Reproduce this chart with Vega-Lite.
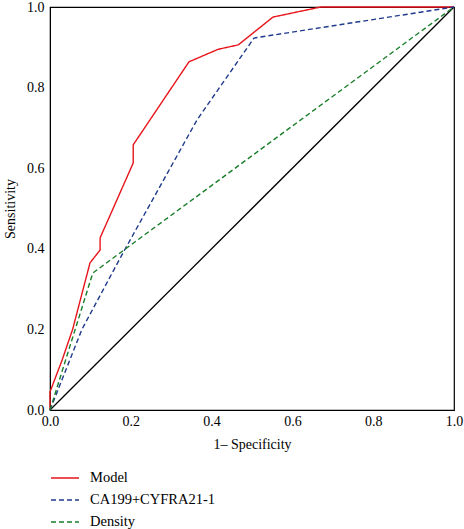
{
  "$schema": "https://vega.github.io/schema/vega-lite/v6.json",
  "width": 404,
  "height": 403,
  "autosize": {"type": "none"},
  "padding": {"left": 50, "top": 7, "right": 10, "bottom": 119},
  "background": "white",
  "config": {
    "view": {"stroke": "black", "strokeWidth": 1.2},
    "font": "Times New Roman, Liberation Serif, serif",
    "axis": {"grid": false, "ticks": false, "domainColor": "black", "labelColor": "black", "titleColor": "black", "labelFont": "Times New Roman, Liberation Serif, serif", "titleFont": "Times New Roman, Liberation Serif, serif", "labelFontSize": 14, "titleFontSize": 14, "titleFontWeight": "normal"}
  },
  "datasets": {
    "diag": [{"fpr": 0, "tpr": 0}, {"fpr": 1, "tpr": 1}],
    "roc": [
      {"series": "Model", "order": 1, "fpr": 0, "tpr": 0},
      {"series": "Model", "order": 2, "fpr": 0, "tpr": 0.045},
      {"series": "Model", "order": 3, "fpr": 0.03, "tpr": 0.124},
      {"series": "Model", "order": 4, "fpr": 0.056, "tpr": 0.2},
      {"series": "Model", "order": 5, "fpr": 0.099, "tpr": 0.365},
      {"series": "Model", "order": 6, "fpr": 0.124, "tpr": 0.397},
      {"series": "Model", "order": 7, "fpr": 0.124, "tpr": 0.427},
      {"series": "Model", "order": 8, "fpr": 0.206, "tpr": 0.613},
      {"series": "Model", "order": 9, "fpr": 0.206, "tpr": 0.658},
      {"series": "Model", "order": 10, "fpr": 0.344, "tpr": 0.864},
      {"series": "Model", "order": 11, "fpr": 0.416, "tpr": 0.895},
      {"series": "Model", "order": 12, "fpr": 0.466, "tpr": 0.906},
      {"series": "Model", "order": 13, "fpr": 0.552, "tpr": 0.975},
      {"series": "Model", "order": 14, "fpr": 0.67, "tpr": 1.0},
      {"series": "Model", "order": 15, "fpr": 1, "tpr": 1},
      {"series": "CA199+CYFRA21-1", "order": 1, "fpr": 0, "tpr": 0},
      {"series": "CA199+CYFRA21-1", "order": 2, "fpr": 0.079, "tpr": 0.2},
      {"series": "CA199+CYFRA21-1", "order": 3, "fpr": 0.178, "tpr": 0.385},
      {"series": "CA199+CYFRA21-1", "order": 4, "fpr": 0.364, "tpr": 0.72},
      {"series": "CA199+CYFRA21-1", "order": 5, "fpr": 0.505, "tpr": 0.923},
      {"series": "CA199+CYFRA21-1", "order": 6, "fpr": 1, "tpr": 1},
      {"series": "Density", "order": 1, "fpr": 0, "tpr": 0},
      {"series": "Density", "order": 2, "fpr": 0.106, "tpr": 0.34},
      {"series": "Density", "order": 3, "fpr": 1, "tpr": 1}
    ]
  },
  "layer": [
    {
      "data": {"name": "diag"},
      "mark": {"type": "line", "color": "black", "strokeWidth": 1.3},
      "encoding": {
        "x": {"field": "fpr", "type": "quantitative"},
        "y": {"field": "tpr", "type": "quantitative"}
      }
    },
    {
      "data": {"name": "roc"},
      "mark": {"type": "line", "strokeWidth": 1.4},
      "encoding": {
        "x": {"field": "fpr", "type": "quantitative", "scale": {"domain": [0, 1], "nice": false}, "axis": {"title": "1\u2013 Specificity", "values": [0, 0.2, 0.4, 0.6, 0.8, 1], "format": ".1f", "labelPadding": 4, "titlePadding": 9, "labelFlush": false}},
        "y": {"field": "tpr", "type": "quantitative", "scale": {"domain": [0, 1], "nice": false}, "axis": {"title": "Sensitivity", "values": [0, 0.2, 0.4, 0.6, 0.8, 1], "format": ".1f", "labelPadding": 6, "titlePadding": 9, "labelFlush": false}},
        "order": {"field": "order", "type": "quantitative"},
        "color": {
          "field": "series", "type": "nominal",
          "scale": {"domain": ["Model", "CA199+CYFRA21-1", "Density"], "range": ["#e8141c", "#1f3a8c", "#1a7f2a"]},
          "legend": {"title": null, "orient": "none", "legendX": 0, "legendY": 456, "symbolType": "stroke", "symbolSize": 784, "symbolStrokeWidth": 1.4, "labelFont": "Times New Roman, Liberation Serif, serif", "labelFontSize": 14.5, "labelColor": "black", "rowPadding": -12, "labelOffset": 10}
        },
        "strokeDash": {
          "field": "series", "type": "nominal",
          "scale": {"domain": ["Model", "CA199+CYFRA21-1", "Density"], "range": [[1, 0], [5, 3], [5, 3]]},
          "legend": null
        }
      }
    }
  ]
}
